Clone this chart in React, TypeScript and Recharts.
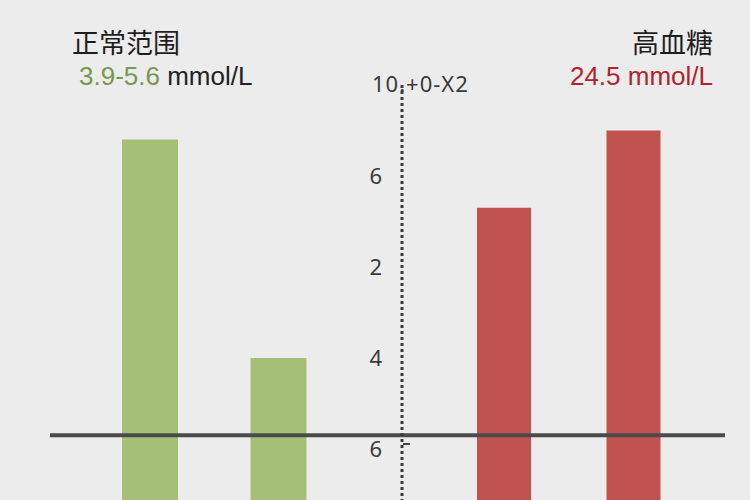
import { BarChart, Bar, XAxis, YAxis, Cell, ReferenceLine } from 'recharts';

// glucose comparison: normal range (left) vs. hyperglycemia (right)
const normalLabels = ['a', 'b'];
const normalValues = [8.8, 4.0];
const highLabels = ['c', 'd'];
const highValues = [7.3, 9.0];

const yTicks = [10, 8, 6, 4, 2];
const yTickText: Record<number, string> = { 10: '10.+0-X2', 8: '6', 6: '2', 4: '4', 2: '6' };
const thresholdValue = 2.3;

const normalData = normalLabels.map((name, i) => ({ name, value: normalValues[i] }));
const highData = highLabels.map((name, i) => ({ name, value: highValues[i] }));

const GREEN = '#a5bf74';
const RED = '#c0534f';
const BG = '#ececec';
const DOMAIN: [number, number] = [0, 10];

const AxisTick = (props: any) => {
    const { x, y, payload } = props;
    const v = payload.value;
    const text = yTickText[v] ?? String(v);
    if (v === 10) {
        return (
            <text x={x - 30} y={y} dy={7} textAnchor="start" fontSize={22} letterSpacing={1} fill="#3a3a3a" fontFamily="'Noto Sans', sans-serif">
                {text}
            </text>
        );
    }
    return (
        <g>
            <text x={x - 20} y={y} dy={8} textAnchor="end" fontSize={22} fill="#3a3a3a" fontFamily="'Noto Sans', sans-serif">
                {text}
            </text>
            {v === 2 && <line x1={x + 1} x2={x + 8} y1={y - 5} y2={y - 5} stroke="#444" strokeWidth={2} />}
        </g>
    );
};

const App = () => {
    return (
        <div style={{ position: 'fixed', left: 0, top: 0, width: 750, height: 500, background: BG, overflow: 'hidden' }}>
            <div style={{ position: 'absolute', left: 72, top: 22, fontSize: 27, color: '#1e1e1e', fontFamily: "'Noto Sans CJK SC', sans-serif" }}>
                正常范围
            </div>
            <div style={{ position: 'absolute', left: 79, top: 61, fontSize: 26, fontFamily: "'Liberation Sans', Arial, sans-serif", whiteSpace: 'nowrap' }}>
                <span style={{ color: '#76984f' }}>3.9-5.6</span> <span style={{ color: '#222' }}>mmol/L</span>
            </div>
            <div style={{ position: 'absolute', right: 37, top: 22, fontSize: 27, color: '#1e1e1e', fontFamily: "'Noto Sans CJK SC', sans-serif" }}>
                高血糖
            </div>
            <div style={{ position: 'absolute', right: 37, top: 61, fontSize: 26, color: '#b0242f', fontFamily: "'Liberation Sans', Arial, sans-serif", whiteSpace: 'nowrap' }}>
                24.5 mmol/L
            </div>

            <div style={{ position: 'absolute', left: 0, top: 0 }}>
                <BarChart width={402} height={540} data={normalData} margin={{ top: 85, right: 0, bottom: 0, left: 50 }}>
                    <XAxis dataKey="name" hide padding={{ left: 36, right: 59 }} />
                    <YAxis hide domain={DOMAIN} />
                    <Bar dataKey="value" barSize={56} isAnimationActive={false}>
                        {normalData.map((d) => (
                            <Cell key={d.name} fill={GREEN} />
                        ))}
                    </Bar>
                    <ReferenceLine y={thresholdValue} stroke="#4a4a4a" strokeWidth={4} ifOverflow="visible" />
                </BarChart>
            </div>

            <div style={{ position: 'absolute', left: 340, top: 0 }}>
                <BarChart width={410} height={540} data={highData} margin={{ top: 85, right: 25, bottom: 0, left: 0 }}>
                    <XAxis dataKey="name" hide padding={{ left: 37, right: 27 }} />
                    <YAxis
                        width={62}
                        domain={DOMAIN}
                        ticks={yTicks}
                        interval={0}
                        tickSize={0}
                        tickMargin={0}
                        tickLine={false}
                        axisLine={{ stroke: '#3c3c3c', strokeWidth: 3, strokeDasharray: '3 3' }}
                        tick={<AxisTick />}
                    />
                    <Bar dataKey="value" barSize={54} isAnimationActive={false}>
                        {highData.map((d) => (
                            <Cell key={d.name} fill={RED} />
                        ))}
                    </Bar>
                    <ReferenceLine y={thresholdValue} stroke="#4a4a4a" strokeWidth={4} ifOverflow="visible" />
                </BarChart>
            </div>
        </div>
    );
};

export default App;
